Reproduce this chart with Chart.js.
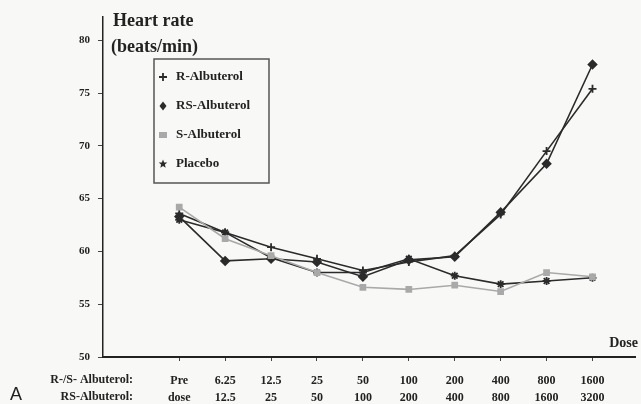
<!DOCTYPE html>
<html>
<head>
<meta charset="utf-8">
<script src="https://cdn.jsdelivr.net/npm/chart.js@4/dist/chart.umd.min.js"></script>
<style>
  html, body { margin: 0; padding: 0; background: #f8f8f6; }
  #wrap { width: 641px; height: 404px; position: relative; }
</style>
</head>
<body>
<div id="wrap"><canvas id="hrChart"></canvas></div>
<script>
// Dose levels (two rows under the x axis)
const doseRS = ['Pre', '6.25', '12.5', '25', '50', '100', '200', '400', '800', '1600'];
const doseRacemic = ['dose', '12.5', '25', '50', '100', '200', '400', '800', '1600', '3200'];
const yTicks = [50, 55, 60, 65, 70, 75, 80];

// Heart rate (beats/min)
const rAlbuterol  = [63.6, 61.8, 60.4, 59.3, 58.2, 59.0, 59.6, 63.5, 69.5, 75.4];
const rsAlbuterol = [63.3, 59.1, 59.3, 59.0, 57.6, 59.2, 59.5, 63.7, 68.3, 77.7];
const sAlbuterol  = [64.2, 61.2, 59.6, 58.0, 56.6, 56.4, 56.8, 56.2, 58.0, 57.6];
const placebo     = [63.0, 61.8, 59.4, 58.0, 58.0, 59.3, 57.7, 56.9, 57.2, 57.5];

const SERIF = '"Liberation Serif", "DejaVu Serif", serif';
const DARK = '#2b2b2b';
const LIGHT = '#a9a9a9';

function toPoints(values) {
    return values.map((v, i) => ({ x: i, y: v }));
}

function makeSeries(label, values, color, style, radius) {
    return {
        label: label,
        data: toPoints(values),
        borderColor: color,
        backgroundColor: color,
        borderWidth: 1.6,
        pointStyle: style,
        pointRadius: radius,
        pointBorderWidth: 1.8,
        tension: 0
    };
}

// small marker drawing for the hand made legend
function drawMarker(ctx, style, x, y, color) {
    ctx.save();
    ctx.fillStyle = color;
    ctx.strokeStyle = color;
    ctx.lineWidth = 1.8;
    ctx.beginPath();
    if (style === 'cross') {
        ctx.moveTo(x - 4, y); ctx.lineTo(x + 4, y);
        ctx.moveTo(x, y - 4); ctx.lineTo(x, y + 4);
        ctx.stroke();
    } else if (style === 'rectRot') {
        ctx.moveTo(x, y - 4.5); ctx.lineTo(x + 3.5, y); ctx.lineTo(x, y + 4.5); ctx.lineTo(x - 3.5, y);
        ctx.closePath(); ctx.fill();
    } else if (style === 'rect') {
        ctx.fillRect(x - 4, y - 3, 8, 6);
    } else {
        for (let k = 0; k < 10; k++) {
            const r = k % 2 === 0 ? 4.5 : 2;
            const a = -Math.PI / 2 + k * Math.PI / 5;
            ctx.lineTo(x + r * Math.cos(a), y + r * Math.sin(a));
        }
        ctx.closePath(); ctx.fill();
    }
    ctx.restore();
}

const legendItems = [
    { text: 'R-Albuterol', style: 'cross', color: DARK },
    { text: 'RS-Albuterol', style: 'rectRot', color: DARK },
    { text: 'S-Albuterol', style: 'rect', color: LIGHT },
    { text: 'Placebo', style: 'star', color: DARK }
];

// texts and legend that sit around the plot
const decorations = {
    id: 'decorations',
    afterDraw(chart) {
        const ctx = chart.ctx;
        ctx.save();
        ctx.fillStyle = '#222';
        ctx.textBaseline = 'middle';

        ctx.font = 'bold 18px ' + SERIF;
        ctx.textAlign = 'left';
        ctx.fillText('Heart rate', 113, 21);
        ctx.fillText('(beats/min)', 111, 47);

        ctx.font = 'bold 14px ' + SERIF;
        ctx.textAlign = 'right';
        ctx.fillText('Dose', 638, 343);

        ctx.font = 'bold 12px ' + SERIF;
        ctx.fillText('R-/S- Albuterol:', 133, 380);
        ctx.fillText('RS-Albuterol:', 133, 397);

        ctx.font = '18px "Liberation Sans", Arial, sans-serif';
        ctx.textAlign = 'left';
        ctx.fillText('A', 10, 395);

        // legend box
        ctx.strokeStyle = '#555';
        ctx.lineWidth = 1.5;
        ctx.strokeRect(154, 59, 115, 124);
        ctx.font = 'bold 13px ' + SERIF;
        legendItems.forEach((item, i) => {
            const y = 77 + i * 29;
            drawMarker(ctx, item.style, 163, y, item.color);
            ctx.fillStyle = '#222';
            ctx.fillText(item.text, 176, y);
        });
        ctx.restore();
    }
};

const ctx = document.getElementById('hrChart').getContext('2d');
new Chart(ctx, {
    type: 'line',
    data: {
        datasets: [
            makeSeries('S-Albuterol', sAlbuterol, LIGHT, 'rect', 3.5),
            makeSeries('Placebo', placebo, DARK, 'star', 4),
            makeSeries('RS-Albuterol', rsAlbuterol, DARK, 'rectRot', 4),
            makeSeries('R-Albuterol', rAlbuterol, DARK, 'cross', 4)
        ]
    },
    options: {
        responsive: true,
        maintainAspectRatio: false,
        animation: false,
        layout: { padding: { top: 17, right: 1, left: 0, bottom: 0 } },
        plugins: { legend: { display: false }, tooltip: { enabled: false } },
        scales: {
            x: {
                type: 'linear',
                min: -1.66,
                max: 9.93,
                afterBuildTicks: scale => { scale.ticks = doseRS.map((d, i) => ({ value: i })); },
                afterFit: scale => { scale.height = 47; },
                ticks: {
                    autoSkip: false,
                    maxRotation: 0,
                    padding: 12,
                    color: '#222',
                    font: { family: SERIF, size: 12, weight: 'bold', lineHeight: 1.4 },
                    callback: (v) => [doseRS[v], doseRacemic[v]]
                },
                grid: { drawOnChartArea: false, tickLength: 4, color: '#444', lineWidth: 1 },
                border: { color: '#222', width: 2 }
            },
            y: {
                min: 50,
                max: 82.2,
                afterBuildTicks: scale => { scale.ticks = yTicks.map(v => ({ value: v })); },
                afterFit: scale => { scale.width = 103; },
                ticks: {
                    padding: 8,
                    color: '#222',
                    font: { family: SERIF, size: 11, weight: 'bold' }
                },
                grid: { drawOnChartArea: false, tickLength: 5, color: '#444', lineWidth: 1 },
                border: { color: '#222', width: 1.5 }
            }
        }
    },
    plugins: [decorations]
});
</script>
</body>
</html>
